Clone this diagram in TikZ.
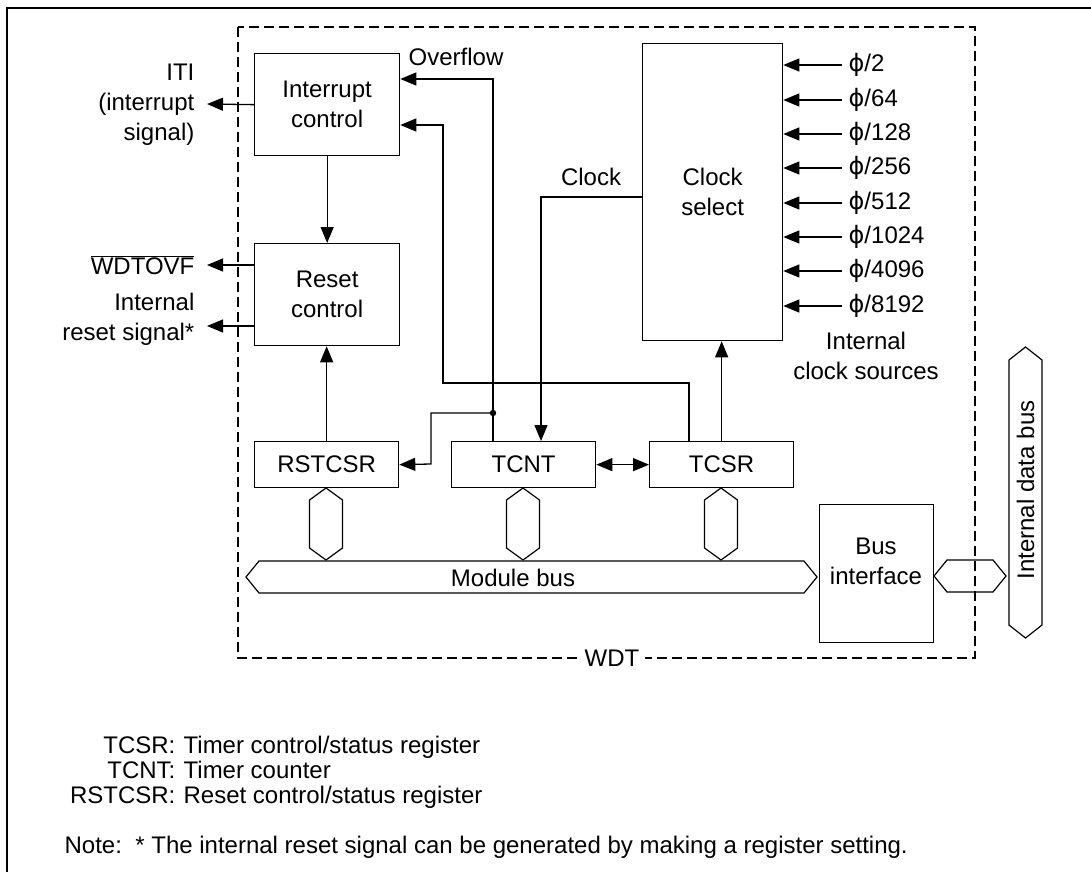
\documentclass[tikz,border=0pt]{standalone}
\usepackage{fontspec}
\setmainfont{Liberation Sans}
\newfontfamily\phifont{DejaVu Sans}
\usetikzlibrary{arrows.meta,calc}
\newcommand{\ph}{{\phifont ϕ}}
\begin{document}
\begin{tikzpicture}[x=1pt,y=-1pt,
  font=\fontsize{24}{30}\selectfont,
  line width=1.3pt,
  box/.style={draw, line width=1.3pt, inner sep=0pt, align=center, anchor=north west},
  arr/.style={-{Triangle[length=16pt,width=13pt]}},
  dbl/.style={{Triangle[length=16pt,width=13pt]}-{Triangle[length=16pt,width=13pt]}},
  lbl/.style={inner sep=0pt},
  leg/.style={inner sep=0pt, font=\fontsize{24}{29}\selectfont},
  wdtdash/.style={dash pattern=on 10pt off 5pt, line width=1.2pt},
  hexshape/.style={draw, line width=1.2pt}
]
\useasboundingbox (0,0) rectangle (1091,872);
% outer frame
\draw[line width=1.5pt] (1091,8) -- (7,8) -- (7,872);
% WDT dashed box
\draw[wdtdash] (238,27) rectangle (975,658);
\node[fill=white, inner xsep=6pt, inner ysep=2pt] (wdt) at (612,658) {WDT};

% blocks
\node[box, minimum width=145pt, minimum height=102pt] (ic) at (254,53) {Interrupt\\control};
\node[box, minimum width=145pt, minimum height=102pt] (rc) at (254,243) {Reset\\control};
\node[box, minimum width=140pt, minimum height=297pt] (cs) at (642,43) {Clock\\select};
\node[box, minimum width=144pt, minimum height=46pt] (rst) at (254,441) {RSTCSR};
\node[box, minimum width=144pt, minimum height=46pt] (tcnt) at (451,441) {TCNT};
\node[box, minimum width=144pt, minimum height=46pt] (tcsr) at (649,441) {TCSR};
\node[box, minimum width=114pt, minimum height=138pt] (bi) at (819,504) {};
\node[lbl, align=center] (bitext) at (876,561) {Bus\\interface};

% left outputs
\node[lbl, align=right, anchor=east] (iti) at (195,105) {ITI\\(interrupt\\signal)};
\node[lbl, anchor=east] (wdtovf) at (195,265) {$\overline{\hbox{WDTOVF}}$};
\node[lbl, align=right, anchor=east] (irs) at (195,319) {Internal\\reset signal*};
\draw[arr] (ic.west) -- (207,104);
\draw[arr] (rc.west |- 0,265) -- (207,265);
\draw[arr] (rc.west |- 0,326) -- (207,326);

% vertical flow
\draw[arr] (ic.south) -- (ic.south |- rc.north);
\draw[arr] (rst.north) -- (rst.north |- rc.south);
\draw[arr] (tcsr.north) -- (tcsr.north |- cs.south);
\draw[dbl] (tcnt.east) -- (tcsr.west);

% overflow
\node[lbl, anchor=west] (ovl) at (408,57) {Overflow};
\coordinate (dot) at (493,413);
\draw[arr] ([xshift=42pt]tcnt.north west) |- (ic.east |- 0,79);
\fill (dot) circle (3.2pt);
\draw[arr] (dot) -- (431,413) -- (431,464) -- (rst.east);
\draw[arr] ([xshift=40pt]tcsr.north west) -- (689,383) -- (443,383) |- (ic.east |- 0,125);

% clock
\node[lbl] (clk) at (591,177) {Clock};
\draw[arr] (cs.west |- 0,197) -| ([xshift=90pt]tcnt.north west);

% clock sources
\foreach \n/\y/\t in {p1/65/2, p2/100/64, p3/134/128, p4/168/256, p5/203/512, p6/237/1024, p7/271/4096, p8/306/8192}{
  \node[lbl, anchor=west] (\n) at (848,\y) {\ph/\t};
  \draw[arr] ([xshift=-6pt]\n.west) -- (cs.east |- \n.west);
}
\node[lbl, align=center] (ics) at (866,356) {Internal\\clock sources};

% buses
\foreach \cx/\nm in {326/h1, 523/h2, 721/h3}{
  \draw[hexshape] (\cx,488) -- (\cx+16.5,500) -- (\cx+16.5,548) -- (\cx,560) -- (\cx-16.5,548) -- (\cx-16.5,500) -- cycle;
}
\draw[hexshape] (246,577) -- (259,561) -- (804,561) -- (817,577) -- (804,593) -- (259,593) -- cycle;
\node[lbl] (mb) at (513,578) {Module bus};
\draw[hexshape] (934,576) -- (947,560) -- (993,560) -- (1006,576) -- (993,592) -- (947,592) -- cycle;
\draw[hexshape] (1025.5,347) -- (1042,360) -- (1042,625) -- (1025.5,638) -- (1009,625) -- (1009,360) -- cycle;
\node[lbl, rotate=90] (idb) at (1025.5,490) {Internal data bus};

% legend
\node[leg, anchor=base east] (l1a) at (176,753) {TCSR:};
\node[leg, anchor=base west] (l1b) at (183,753) {Timer control/status register};
\node[leg, anchor=base east] (l2a) at (176,778) {TCNT:};
\node[leg, anchor=base west] (l2b) at (183,778) {Timer counter};
\node[leg, anchor=base east] (l3a) at (176,803) {RSTCSR:};
\node[leg, anchor=base west] (l3b) at (183,803) {Reset control/status register};
\node[leg, anchor=base west] (note) at (64,853) {Note:\ \ * The internal reset signal can be generated by making a register setting.};
\end{tikzpicture}
\end{document}
